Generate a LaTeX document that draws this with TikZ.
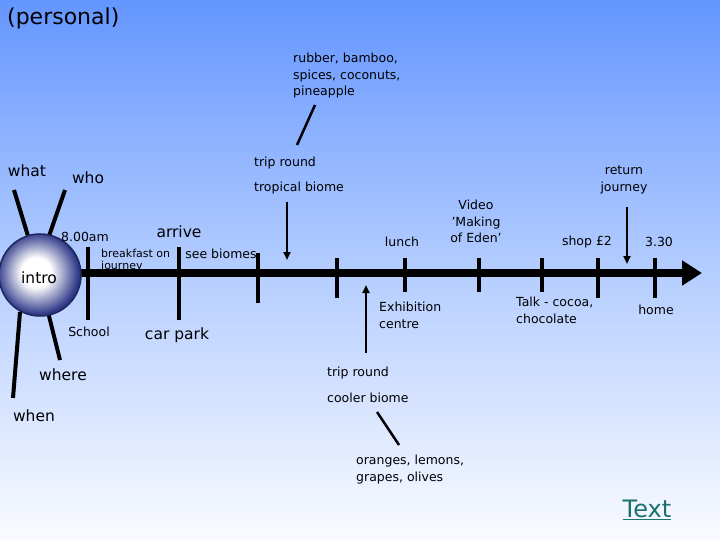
\documentclass[tikz,border=0pt]{standalone}
\usepackage{fontspec}
\setmainfont{DejaVu Sans}
\usetikzlibrary{arrows.meta}
\definecolor{bgtop}{RGB}{100,150,255}
\definecolor{bgmid}{RGB}{180,205,255}
\definecolor{bgbot}{RGB}{250,251,255}
\definecolor{balldark}{RGB}{45,55,135}
\definecolor{teal}{RGB}{25,115,110}
\pgfdeclareradialshading{ballshade}{\pgfpoint{-3bp}{2bp}}{color(0bp)=(white); color(9bp)=(white); color(25bp)=(balldark); color(50bp)=(balldark)}
\tikzset{
  big/.style={font=\fontsize{15.5}{17}\selectfont, inner sep=0pt},
  small/.style={font=\fontsize{12.5}{16.5}\selectfont, inner sep=0pt},
  tiny/.style={font=\fontsize{11}{13}\selectfont, inner sep=0pt, align=left},
  spoke/.style={line width=4pt},
  tick/.style={line width=3.5pt},
  pointer/.style={line width=2.5pt, -{Triangle[length=8pt,width=7pt]}},
  thin pointer/.style={line width=2.5pt},
}
\begin{document}
\begin{tikzpicture}[x=1pt,y=-1pt]
\shade[top color=bgtop, bottom color=bgbot, middle color=bgmid] (0,0) rectangle (720,540);
\useasboundingbox (0,0) rectangle (720,540);

% title
\node[font=\fontsize{22}{24}\selectfont, anchor=west, inner sep=0pt] (personal) at (7,18) {(personal)};

% spokes
\coordinate (whatA) at (14,190); \coordinate (whatB) at (28,236);
\coordinate (whoA) at (65,190); \coordinate (whoB) at (49,236);
\coordinate (whereA) at (48,312); \coordinate (whereB) at (60,360);
\coordinate (whenA) at (20,312); \coordinate (whenB) at (13,398);
\draw[spoke] (whatA) -- (whatB);
\draw[spoke] (whoA) -- (whoB);
\draw[spoke] (whereA) -- (whereB);
\draw[spoke] (whenA) -- (whenB);

% timeline
\coordinate (tlA) at (75,273);
\coordinate (tlB) at (702,273);
\draw[line width=8pt, -{Triangle[length=20pt,width=24pt]}] (tlA) -- (tlB);

% ball
\node[circle, minimum size=82pt, inner sep=0pt, shading=ballshade, draw=balldark!70!black, line width=1.5pt] (ball) at (40,275) {};
\node[big] (intro) at (39,278) {intro};

% ticks
\foreach \n/\x/\a/\b in {t1/88/247/320, t2/179/247/320, t3/258/253/303, t4/337/258/298, t5/405/258/292, t6/479/258/292, t7/542/258/292, t8/598/258/298, t9/655/258/298}{
  \coordinate (\n a) at (\x,\a); \coordinate (\n b) at (\x,\b);
  \draw[tick] (\n a) -- (\n b);
}

% arrows
\coordinate (ar1a) at (287,202); \coordinate (ar1b) at (287,260);
\draw[pointer] (ar1a) -- (ar1b);
\coordinate (ar2a) at (366,353); \coordinate (ar2b) at (366,285);
\draw[pointer] (ar2a) -- (ar2b);
\coordinate (ar3a) at (627,207); \coordinate (ar3b) at (627,264);
\draw[pointer] (ar3a) -- (ar3b);

% diagonals
\coordinate (d1a) at (315,105); \coordinate (d1b) at (297,145);
\draw[thin pointer] (d1a) -- (d1b);
\coordinate (d2a) at (377,412); \coordinate (d2b) at (399,445);
\draw[thin pointer] (d2a) -- (d2b);

% labels
\node[big] (what) at (27,171) {what};
\node[big] (who) at (88,178) {who};
\node[big] (where) at (63,375) {where};
\node[big] (when) at (34,416) {when};
\node[small] (am) at (85,237) {8.00am};
\node[big] (arrive) at (179,232) {arrive};
\node[tiny, anchor=west] (bf) at (101,260) {breakfast on\\[-1pt]journey};
\node[small] (see) at (221,254) {see biomes};
\node[small] (school) at (89,332) {School};
\node[big] (carpark) at (177,335) {car park};
\node[small, align=left, anchor=north west] (rubber) at (293,53) {rubber, bamboo,\\spices, coconuts,\\pineapple};
\node[small, anchor=west] (trip1) at (254,163) {trip round};
\node[small, anchor=west] (trop) at (254,188) {tropical biome};
\node[small] (lunch) at (402,242) {lunch};
\node[small, align=center, anchor=north] (video) at (476,200) {Video\\'Making\\of Eden'};
\node[small, align=center, anchor=north] (ret) at (624,166) {return\\journey};
\node[small] (shop) at (587,242) {shop £2};
\node[small] (t330) at (659,242) {3.30};
\node[small, align=left, anchor=north west] (exh) at (379,302) {Exhibition\\centre};
\node[small, align=left, anchor=north west] (talk) at (516,297) {Talk - cocoa,\\chocolate};
\node[small] (home) at (656,310) {home};
\node[small, anchor=west] (trip2) at (327,373) {trip round};
\node[small, anchor=west] (cool) at (327,398) {cooler biome};
\node[small, align=left, anchor=north west] (oranges) at (356,455) {oranges, lemons,\\grapes, olives};
\node[font=\fontsize{24}{26}\selectfont, text=teal, inner sep=0pt] (textlink) at (647,510) {\underline{Text}};
\end{tikzpicture}
\end{document}
